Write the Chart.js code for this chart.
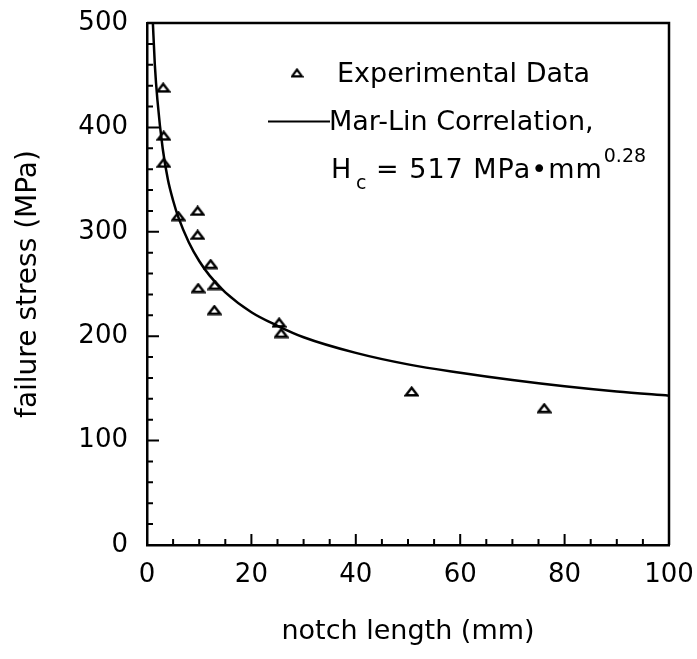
<!DOCTYPE html>
<html><head><meta charset="utf-8">
<script src="https://cdn.jsdelivr.net/npm/chart.js@4/dist/chart.umd.min.js"></script>
<style>html,body{margin:0;padding:0;background:#fff;} #wrap{width:697px;height:659px;position:relative;}</style>
</head><body><div id="wrap"><canvas id="c" width="697" height="659" style="width:697px;height:659px"></canvas></div>
<script>
// ---- data ----
const notchLength   = [3.1, 3.2, 3.2, 6.0, 9.7, 9.7, 9.8, 12.2, 13.0, 12.9, 25.3, 25.7, 50.7, 76.1];
const failureStress = [438, 392, 366, 315, 320, 297, 246, 269, 249, 225, 213, 203, 147, 131];
const curveX = [1.1, 1.5, 2, 3, 4, 5, 6, 8, 10, 12, 15, 20, 25, 30, 40, 50, 60, 70, 80, 90, 100];
const curveY = [503, 460, 426, 380, 350, 330, 314, 290, 272, 258, 242, 223, 210, 199, 184, 173, 165, 158, 152, 147, 143];
const xTicks = [0, 20, 40, 60, 80, 100];
const yTicks = [0, 100, 200, 300, 400, 500];
const legendLabels = ['Experimental Data', 'Mar-Lin Correlation,'];
const hcText = ['H', 'c', '= 517 MPa\u2022mm', '0.28'];
const xTitle = 'notch length (mm)';
const yTitle = 'failure stress (MPa)';

const FONT = 'DejaVu Sans';
Chart.defaults.font.family = FONT;
Chart.defaults.color = '#000';

function triCanvas(w, h, lw) {
  const c = document.createElement('canvas');
  c.width = w; c.height = h;
  const g = c.getContext('2d');
  g.strokeStyle = '#000'; g.lineWidth = lw; g.lineJoin = 'miter';
  g.beginPath();
  g.moveTo(lw * 0.7, h - lw * 0.7);
  g.lineTo(w - lw * 0.7, h - lw * 0.7);
  g.lineTo(w / 2, lw * 0.7);
  g.closePath();
  g.stroke();
  return c;
}
const triPoint = triCanvas(15, 11, 2.4);
const triLegend = triCanvas(13, 10, 2.2);

const framePlugin = {
  id: 'frame',
  afterDraw(chart) {
    const {ctx, chartArea: a, scales: {x, y}} = chart;
    ctx.save();
    ctx.strokeStyle = '#000';
    ctx.lineWidth = 2.5;
    ctx.beginPath();
    ctx.moveTo(a.left, a.top); ctx.lineTo(a.right, a.top); ctx.lineTo(a.right, a.bottom);
    ctx.stroke();
    ctx.lineWidth = 2;
    ctx.beginPath();
    for (let v = x.min; v <= x.max; v += 5) {
      const px = x.getPixelForValue(v);
      const len = (v % 20 === 0) ? 11 : 6;
      ctx.moveTo(px, a.bottom); ctx.lineTo(px, a.bottom - len);
    }
    for (let v = y.min; v <= y.max; v += 20) {
      const py = y.getPixelForValue(v);
      const len = (v % 100 === 0) ? 12 : 6;
      ctx.moveTo(a.left, py); ctx.lineTo(a.left + len, py);
    }
    ctx.stroke();

    // legend
    ctx.fillStyle = '#000';
    ctx.textBaseline = 'alphabetic';
    ctx.textAlign = 'left';
    ctx.font = '27px "' + FONT + '"';
    ctx.drawImage(triLegend, 297 - triLegend.width / 2, 73 - triLegend.height / 2);
    ctx.fillText(legendLabels[0], 337, 82);
    ctx.lineWidth = 2;
    ctx.beginPath(); ctx.moveTo(268, 121.5); ctx.lineTo(330, 121.5); ctx.stroke();
    ctx.fillText(legendLabels[1], 329, 130);
    ctx.font = '27px "' + FONT + '"';
    ctx.fillText(hcText[0], 331, 178);
    ctx.font = '19px "' + FONT + '"';
    ctx.fillText(hcText[1], 356, 189);
    ctx.font = '27px "' + FONT + '"';
    if ('letterSpacing' in ctx) ctx.letterSpacing = '1px';
    ctx.fillText(hcText[2], 376, 178);
    const w = ctx.measureText(hcText[2]).width;
    if ('letterSpacing' in ctx) ctx.letterSpacing = '0px';
    ctx.font = '19px "' + FONT + '"';
    ctx.fillText(hcText[3], 376 + w + 1, 162);
    ctx.restore();
  }
};

new Chart(document.getElementById('c'), {
  type: 'scatter',
  data: {
    datasets: [
      {
        label: 'Experimental Data',
        data: notchLength.map((v, i) => ({x: v, y: failureStress[i]})),
        pointStyle: triPoint,
        pointRadius: 6,
        showLine: false,
        borderColor: '#000',
        backgroundColor: 'rgba(0,0,0,0)'
      },
      {
        label: 'Mar-Lin Correlation',
        type: 'line',
        data: curveX.map((v, i) => ({x: v, y: curveY[i]})),
        borderColor: '#000',
        borderWidth: 2.5,
        pointRadius: 0,
        fill: false,
        cubicInterpolationMode: 'monotone'
      }
    ]
  },
  options: {
    responsive: false,
    animation: false,
    events: [],
    layout: {padding: {top: 23, right: 28, left: 0, bottom: 0}},
    plugins: {legend: {display: false}, tooltip: {enabled: false}},
    scales: {
      x: {
        type: 'linear', min: 0, max: 100,
        afterBuildTicks: s => { s.ticks = xTicks.map(v => ({value: v})); },
        afterFit: s => { s.height = 114; s.paddingLeft = 0; s.paddingRight = 0; },
        grid: {display: false, drawTicks: false},
        border: {display: true, color: '#000', width: 2.5},
        ticks: {font: {size: 26}, color: '#000', padding: 15, maxRotation: 0},
        title: {display: true, text: xTitle, font: {size: 27}, color: '#000', padding: {top: 0, bottom: 11}}
      },
      y: {
        type: 'linear', min: 0, max: 500,
        afterBuildTicks: s => { s.ticks = yTicks.map(v => ({value: v})); },
        afterFit: s => { s.width = 147; s.paddingTop = 0; s.paddingBottom = 0; },
        grid: {display: false, drawTicks: false},
        border: {display: true, color: '#000', width: 2.5},
        ticks: {font: {size: 26}, color: '#000', padding: 19},
        title: {display: true, text: yTitle, font: {size: 28}, color: '#000', padding: {top: 12, bottom: 0}}
      }
    }
  },
  plugins: [framePlugin]
});
</script>
</body></html>
